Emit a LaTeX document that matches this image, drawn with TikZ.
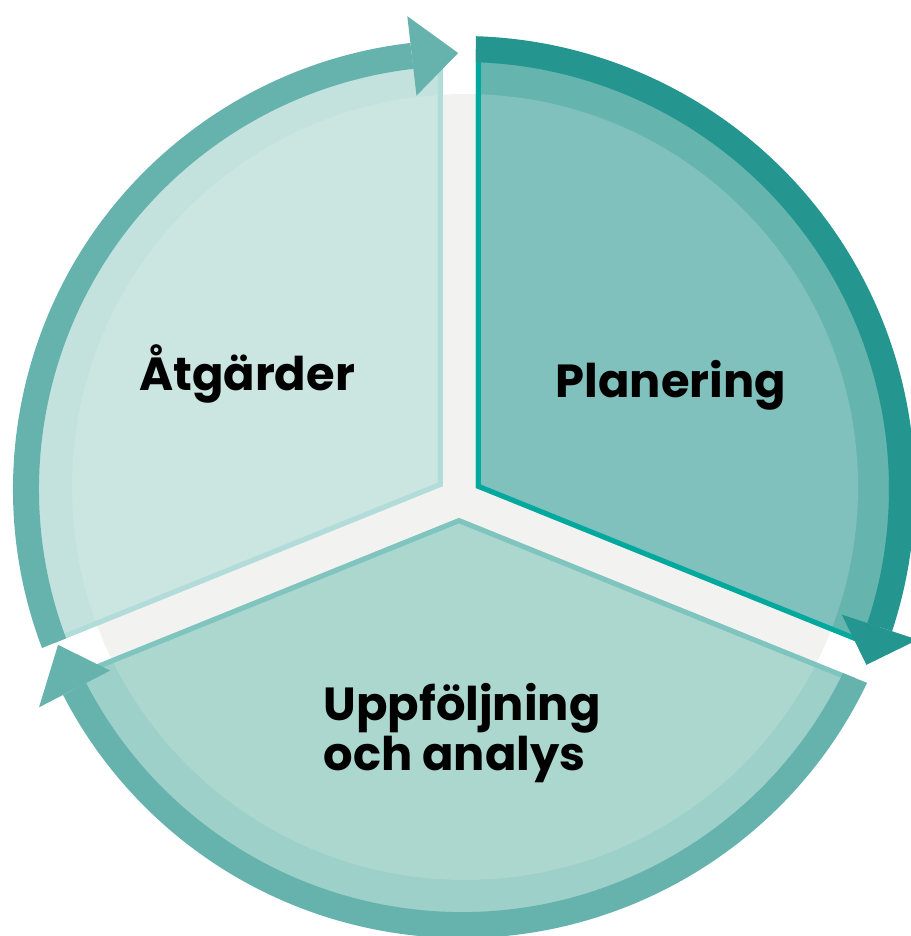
\documentclass[tikz,border=0pt]{standalone}
\usepackage{fontspec}
\setmainfont{Poppins}
\usepackage{xcolor}
\usepackage{tikz}
\usetikzlibrary{calc}

\definecolor{gapgray}{HTML}{F2F2F1}
\definecolor{plandark}{HTML}{24968F}
\definecolor{planout}{HTML}{66B4AE}
\definecolor{planin}{HTML}{80C1BD}
\definecolor{planrim}{HTML}{00A99D}
\definecolor{atgband}{HTML}{66B3AE}
\definecolor{atgout}{HTML}{C3E2DE}
\definecolor{atgin}{HTML}{CBE5E1}
\definecolor{atgrim}{HTML}{B2DCDA}
\definecolor{uppband}{HTML}{66B3AE}
\definecolor{uppout}{HTML}{9DD0C8}
\definecolor{uppin}{HTML}{ABD7CE}
\definecolor{upprim}{HTML}{7FC4BE}

\begin{document}
\begin{tikzpicture}[x=0.1mm, y=0.1mm,
    ringband/.style={line width=2.6mm},
    rim/.style={line width=1mm},
    stagetext/.style={font=\fontsize{13.2pt}{13.1pt}\selectfont\bfseries, inner sep=0pt, text=black}]
            \useasboundingbox (0,0) rectangle (911,936);

            % Centres and wedge tips
            \def\discRadius{393}
            \coordinate (O) at (462,447);
            \coordinate (D) at (465,449);
            \coordinate (Vp) at (476,448);
            \coordinate (Va) at (443,450);
            \coordinate (Vu) at (459,418);

            % Grey disc behind the wedges
            \fill[gapgray] (D) circle[radius=\discRadius];

            % Planering wedge
            \begin{scope}
                \clip (Vp) -- ([shift={(90:1000)}]Vp) -- ([shift={(34:1000)}]Vp) -- ([shift={(-22:1000)}]Vp) -- cycle;
                \begin{scope}
                    \clip (O) circle[radius=440];
                    \fill[planout] (O) circle[radius=440];
                    \fill[planin] (D) circle[radius=\discRadius];
                    \draw[rim, planrim] ([shift={(90:600)}]Vp) -- (Vp) -- ([shift={(-22:600)}]Vp);
                \end{scope}
                \draw[ringband, plandark] ([shift={(95:440)}]O) arc[start angle=95, end angle=-18.3, radius=440];
            \end{scope}
            \fill[plandark] ([shift={(-18.3:400)}]O) -- ([shift={(-18.3:480)}]O) -- ([shift={(-23.5:441)}]O) -- cycle;

            % Atgarder wedge
            \begin{scope}
                \clip (Va) -- ([shift={(90:1000)}]Va) -- ([shift={(146:1000)}]Va) -- ([shift={(202:1000)}]Va) -- cycle;
                \begin{scope}
                    \clip (O) circle[radius=436];
                    \fill[atgout] (O) circle[radius=436];
                    \fill[atgin] (D) circle[radius=\discRadius];
                    \draw[rim, atgrim] ([shift={(90:600)}]Va) -- (Va) -- ([shift={(202:600)}]Va);
                \end{scope}
                \draw[ringband, atgband] ([shift={(215:436)}]O) arc[start angle=215, end angle=96.6, radius=436];
            \end{scope}
            \fill[atgband] ([shift={(96.6:396)}]O) -- ([shift={(96.6:476)}]O) -- ([shift={(90.5:436)}]O) -- cycle;

            % Uppfoljning wedge
            \begin{scope}
                \clip (Vu) -- ([shift={(202:1000)}]Vu) -- ([shift={(270:1000)}]Vu) -- ([shift={(338:1000)}]Vu) -- cycle;
                \begin{scope}
                    \clip (O) circle[radius=436];
                    \fill[uppout] (O) circle[radius=436];
                    \fill[uppin] (D) circle[radius=\discRadius];
                    \draw[rim, upprim] ([shift={(202:600)}]Vu) -- (Vu) -- ([shift={(338:600)}]Vu);
                \end{scope}
                \draw[ringband, uppband] ([shift={(-15:436)}]O) arc[start angle=-15, end angle=-152.7, radius=436];
            \end{scope}
            \fill[uppband] ([shift={(207.3:396)}]O) -- ([shift={(207.3:476)}]O) -- ([shift={(201.1:433)}]O) -- cycle;

            % Labels
            \node[stagetext, anchor=base] (atgarder) at (247,546) {Åtgärder};
            \node[stagetext, anchor=base] (planering) at (671,539) {Planering};
            \node[stagetext, anchor=base west, align=left] (uppfoljning) at (323,165) {Uppföljning\\och analys};

        \end{tikzpicture}
\end{document}
